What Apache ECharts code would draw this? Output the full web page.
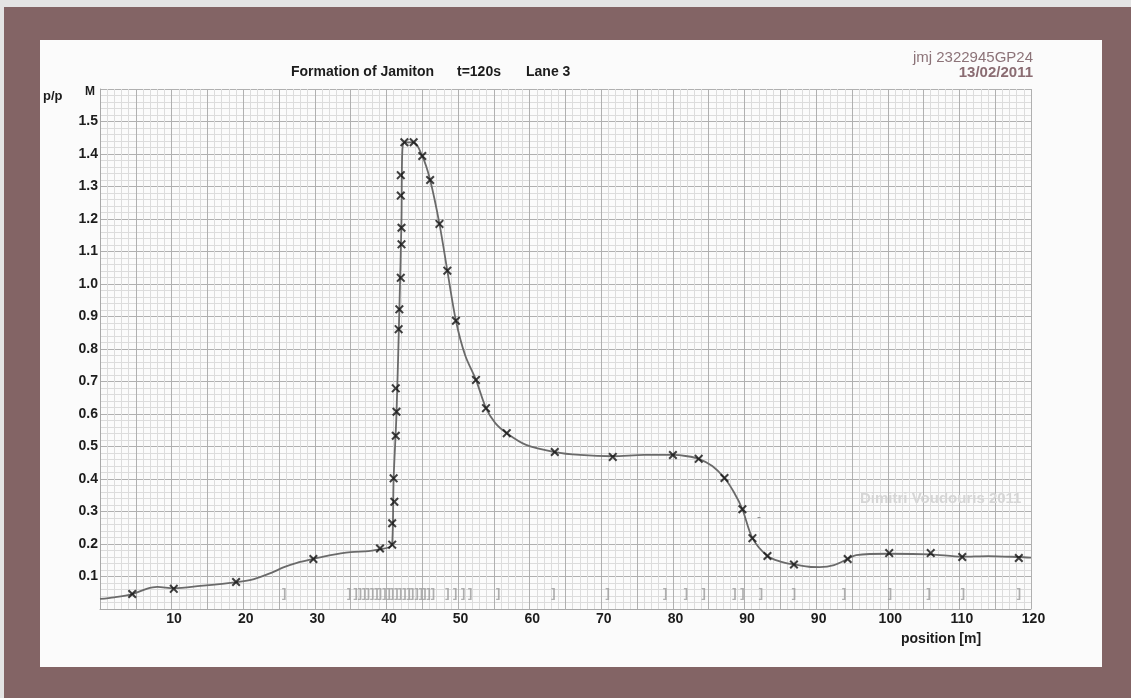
<!DOCTYPE html>
<html>
<head>
<meta charset="utf-8">
<script src="https://cdn.jsdelivr.net/npm/echarts@6/dist/echarts.min.js"></script>
<style>
html,body{margin:0;padding:0;background:#836465;}
#chart{width:1131px;height:698px;}
</style>
</head>
<body>
<div id="chart"></div>
<script>
// Hand-drawn curve (position [m], p/pM)
const curveX = [0, 2, 4.5, 6.5, 8, 10.3, 14, 19.1, 21.5, 24, 25.6, 27.5, 29.8, 32, 35, 37.5, 39.1, 40.4, 40.8, 41.0, 41.4, 41.8, 42.1, 42.2, 42.5, 43.8, 45.0, 46.1, 47.4, 48.5, 49.7, 51.0, 52.5, 53.9, 55.2, 56.8, 59.5, 63.5, 67, 71.6, 76, 80.0, 82, 83.6, 85.5, 87.2, 88.5, 89.7, 91.1, 93.2, 95, 96.9, 99, 100.5, 102.5, 104.4, 105.6, 110.2, 116, 120.4, 124, 128.3, 130];
const curveY = [0.031, 0.036, 0.046, 0.062, 0.068, 0.064, 0.071, 0.083, 0.092, 0.112, 0.128, 0.142, 0.154, 0.165, 0.175, 0.178, 0.184, 0.19, 0.2, 0.40, 0.60, 0.92, 1.20, 1.40, 1.436, 1.436, 1.394, 1.32, 1.185, 1.041, 0.887, 0.78, 0.705, 0.618, 0.572, 0.541, 0.505, 0.483, 0.474, 0.470, 0.474, 0.474, 0.470, 0.462, 0.44, 0.403, 0.36, 0.307, 0.218, 0.163, 0.146, 0.137, 0.130, 0.129, 0.135, 0.154, 0.166, 0.170, 0.168, 0.161, 0.163, 0.160, 0.158];

// Measured points (x markers)
const markX = [4.5, 10.3, 19.0, 29.8, 39.1, 40.8, 40.8, 41.1, 41.0, 41.3, 41.4, 41.3, 41.7, 41.8, 42.0, 42.1, 42.1, 42.0, 42.0, 42.5, 43.8, 45.0, 46.1, 47.4, 48.5, 49.7, 52.5, 53.9, 56.8, 63.5, 71.6, 80.0, 83.6, 87.2, 89.7, 91.1, 93.2, 96.9, 104.4, 110.2, 116.0, 120.4, 128.3];
const markY = [0.046, 0.062, 0.083, 0.154, 0.186, 0.198, 0.264, 0.33, 0.402, 0.533, 0.607, 0.679, 0.861, 0.922, 1.019, 1.122, 1.173, 1.272, 1.335, 1.436, 1.436, 1.394, 1.32, 1.185, 1.041, 0.887, 0.705, 0.618, 0.541, 0.483, 0.468, 0.474, 0.462, 0.403, 0.307, 0.218, 0.163, 0.137, 0.154, 0.172, 0.172, 0.160, 0.157];

// Bracket marks along the bottom (sensor positions)
const sensorX = [25.7, 34.8, 35.7, 36.3, 36.9, 37.4, 38.0, 38.6, 39.1, 39.7, 40.3, 40.8, 41.4, 41.9, 42.5, 43.1, 43.6, 44.2, 44.8, 45.3, 45.9, 46.5, 48.5, 49.6, 50.7, 51.7, 55.6, 63.3, 70.9, 78.9, 81.8, 84.3, 88.6, 89.7, 92.3, 96.9, 103.9, 110.3, 115.7, 120.5, 128.3];
const sensorLevel = 0.049;

// Tick labels as printed on the paper (note the repeated 90)
const xTickLabels = ['', '10', '20', '30', '40', '50', '60', '70', '80', '90', '90', '100', '110', '120'];
const yTickLabels = ['', '0.1', '0.2', '0.3', '0.4', '0.5', '0.6', '0.7', '0.8', '0.9', '1.0', '1.1', '1.2', '1.3', '1.4', '1.5', ''];

const FONT = "'Liberation Sans', Arial, sans-serif";
const chart = echarts.init(document.getElementById('chart'));
const xShape = 'path://M0,1.6L1.6,0L5,3.4L8.4,0L10,1.6L6.6,5L10,8.4L8.4,10L5,6.6L1.6,10L0,8.4L3.4,5Z';

chart.setOption({
  backgroundColor: '#836465',
  animation: false,
  graphic: [
    {type: 'rect', z: -10, shape: {x: 0, y: 0, width: 1131, height: 7}, style: {fill: '#e4e4e4'}},
    {type: 'rect', z: -10, shape: {x: 0, y: 0, width: 4, height: 698}, style: {fill: '#e4e4e4'}},
    {type: 'rect', z: -10, shape: {x: 40, y: 40, width: 1062, height: 627}, style: {fill: '#fbfbfb'}},
    {type: 'text', z: 5, left: 291, top: 65, style: {text: 'Formation of Jamiton', font: 'bold 14px ' + FONT, fill: '#1c1c1c'}},
    {type: 'text', z: 5, left: 457, top: 65, style: {text: 't=120s', font: 'bold 14px ' + FONT, fill: '#1c1c1c'}},
    {type: 'text', z: 5, left: 526, top: 65, style: {text: 'Lane 3', font: 'bold 14px ' + FONT, fill: '#1c1c1c'}},
    {type: 'text', z: 5, left: 43, top: 90, style: {text: 'p/p', font: 'bold 13px ' + FONT, fill: '#1c1c1c'}},
    {type: 'text', z: 5, left: 85, top: 86, style: {text: 'M', font: 'bold 12px ' + FONT, fill: '#1c1c1c'}},
    {type: 'text', z: 5, left: 901, top: 632, style: {text: 'position [m]', font: 'bold 14px ' + FONT, fill: '#1c1c1c'}},
    {type: 'text', z: 5, right: 98, top: 50, style: {text: 'jmj 2322945GP24', font: '15px ' + FONT, fill: '#8c7378'}},
    {type: 'text', z: 5, right: 98, top: 65, style: {text: '13/02/2011', font: 'bold 15px ' + FONT, fill: '#8a6c72'}},
    {type: 'text', z: 5, left: 860, top: 491, style: {text: 'Dimitri Voudouris 2011', font: 'bold 15px ' + FONT, fill: '#d6d6d6'}},
    {type: 'text', z: 5, left: 757, top: 512, style: {text: '-', font: '12px ' + FONT, fill: '#888888'}}
  ],
  grid: {left: 100, right: 100, top: 89, bottom: 89, containLabel: false},
  xAxis: {
    type: 'value', min: 0, max: 130, interval: 5,
    axisLine: {show: true, lineStyle: {color: '#a8a8a8', width: 1}},
    axisTick: {show: false},
    minorTick: {show: false, splitNumber: 5},
    splitLine: {show: true, lineStyle: {color: '#b0b0b0', width: 1}},
    minorSplitLine: {show: true, lineStyle: {color: '#dcdcdc', width: 1}},
    axisLabel: {
      margin: 3, padding: [0, 0, 0, 5],
      fontFamily: FONT, fontSize: 14, fontWeight: 'bold', color: '#1c1c1c',
      formatter: function (v) { return (v % 10 === 0) ? (xTickLabels[Math.round(v / 10)] || '') : ''; }
    }
  },
  yAxis: {
    type: 'value', min: 0, max: 1.6, interval: 0.1,
    axisLine: {show: true, lineStyle: {color: '#a8a8a8', width: 1}},
    axisTick: {show: false},
    minorTick: {show: false, splitNumber: 5},
    splitLine: {show: true, lineStyle: {color: '#b0b0b0', width: 1}},
    minorSplitLine: {show: true, lineStyle: {color: '#dcdcdc', width: 1}},
    axisLabel: {
      margin: 2,
      fontFamily: FONT, fontSize: 14, fontWeight: 'bold', color: '#1c1c1c',
      formatter: function (v) { return yTickLabels[Math.round(v * 10)] || ''; }
    }
  },
  series: [
    {
      type: 'line', name: 'curve', smooth: 0.3, showSymbol: false, symbol: 'none', z: 3,
      lineStyle: {color: '#6a6a6a', width: 1.8},
      data: curveX.map((x, i) => [x, curveY[i]])
    },
    {
      type: 'scatter', name: 'measured', symbol: xShape, symbolSize: 9, z: 4,
      itemStyle: {color: '#111111'},
      data: markX.map((x, i) => [x, markY[i]])
    },
    {
      type: 'scatter', name: 'sensors', symbol: 'rect', symbolSize: 1, z: 3,
      itemStyle: {color: 'rgba(0,0,0,0)'},
      label: {show: true, position: 'inside', formatter: ']', fontFamily: FONT, fontSize: 13, fontWeight: 'bold', color: '#9c9c9c'},
      data: sensorX.map(x => [x, sensorLevel])
    }
  ]
});
</script>
</body>
</html>
